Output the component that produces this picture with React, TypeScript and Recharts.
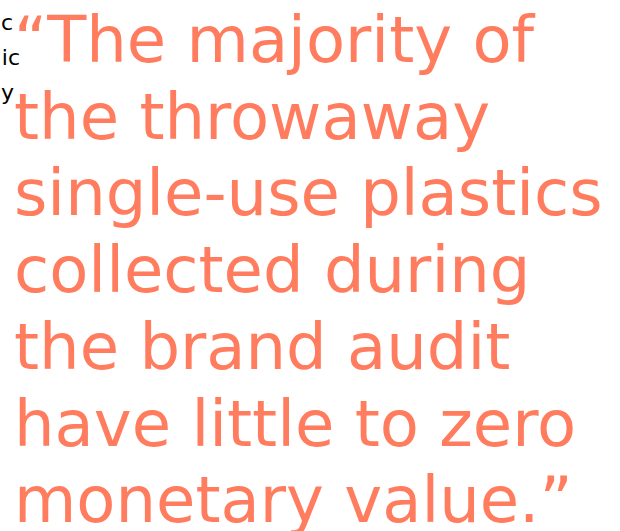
import { Surface, Layer, Text } from "recharts";

const quoteLines = [
  "\u201CThe majority of",
  "the throwaway",
  "single-use plastics",
  "collected during",
  "the brand audit",
  "have little to zero",
  "monetary value.\u201D",
];

// clipped fragments of the neighbouring label column
const sideLabels = ["c", "ic", "y"];
const sideLabelEnds = [13, 20, 14];

const WIDTH = 620;
const HEIGHT = 531;

export default function App() {
  return (
    <div style={{ position: "fixed", left: 0, top: 0, width: WIDTH, height: HEIGHT, background: "#fff" }}>
      <Surface width={WIDTH} height={HEIGHT}>
        <Layer className="side-labels">
          {sideLabels.map((label, i) => (
            <Text
              key={`side-${i}`}
              x={sideLabelEnds[i]}
              y={30 + i * 35}
              textAnchor="end"
              style={{ fontFamily: "DejaVu Sans", fontSize: 22 }}
              fill="#000"
            >
              {label}
            </Text>
          ))}
        </Layer>
        <Layer className="quote">
          {quoteLines.map((line, i) => (
            <Text
              key={`line-${i}`}
              x={14}
              y={62 + i * 76.7}
              textAnchor="start"
              style={{ fontFamily: "DejaVu Sans", fontSize: 64 }}
              fill="#ff7d5e"
            >
              {line}
            </Text>
          ))}
        </Layer>
      </Surface>
    </div>
  );
}
